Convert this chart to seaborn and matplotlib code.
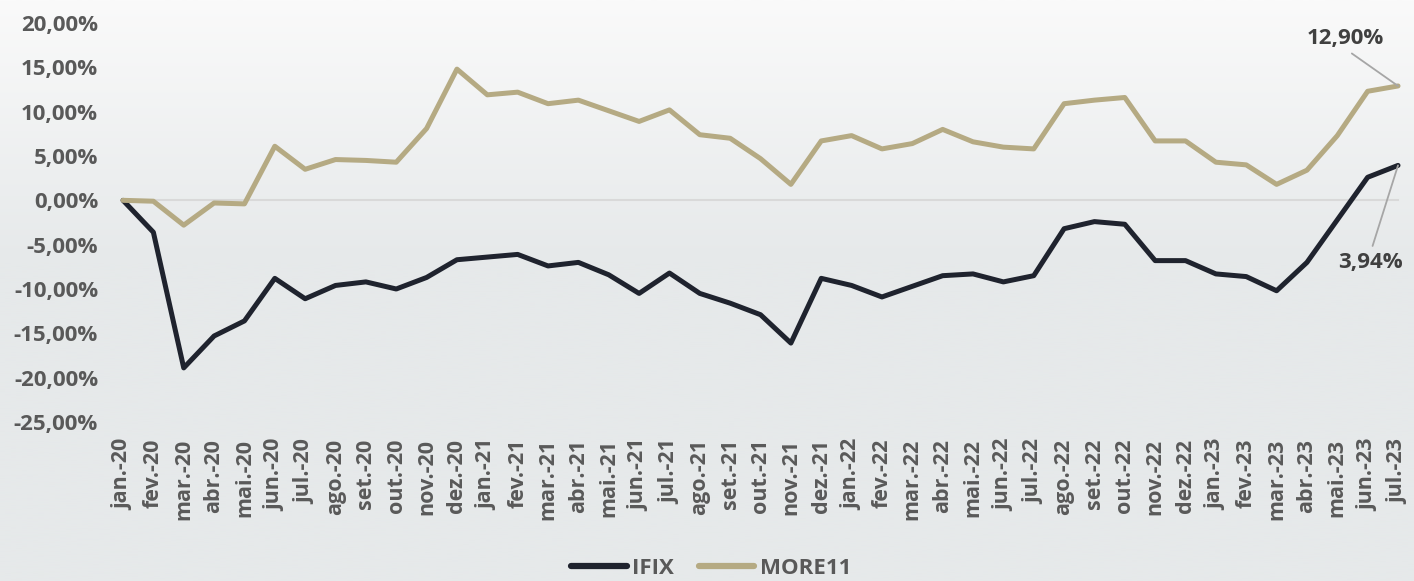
import numpy as np
import pandas as pd
import matplotlib
matplotlib.use("Agg")
import matplotlib.pyplot as plt
import matplotlib.colors as mcolors
import seaborn as sns

# ------------------------------
# Data (accumulated return, %)
# ------------------------------
months = ["jan.-20", "fev.-20", "mar.-20", "abr.-20", "mai.-20", "jun.-20", "jul.-20",
          "ago.-20", "set.-20", "out.-20", "nov.-20", "dez.-20",
          "jan.-21", "fev.-21", "mar.-21", "abr.-21", "mai.-21", "jun.-21", "jul.-21",
          "ago.-21", "set.-21", "out.-21", "nov.-21", "dez.-21",
          "jan.-22", "fev.-22", "mar.-22", "abr.-22", "mai.-22", "jun.-22", "jul.-22",
          "ago.-22", "set.-22", "out.-22", "nov.-22", "dez.-22",
          "jan.-23", "fev.-23", "mar.-23", "abr.-23", "mai.-23", "jun.-23", "jul.-23"]

ifix = [0.0, -3.6, -18.9, -15.3, -13.6, -8.8, -11.1, -9.6, -9.2, -10.0, -8.7, -6.7,
        -6.4, -6.1, -7.4, -7.0, -8.4, -10.5, -8.2, -10.5, -11.6, -12.9, -16.1, -8.8,
        -9.6, -10.9, -9.7, -8.5, -8.3, -9.2, -8.5, -3.2, -2.4, -2.7, -6.8, -6.8,
        -8.3, -8.6, -10.2, -7.0, -2.2, 2.6, 3.94]

more11 = [0.0, -0.1, -2.8, -0.3, -0.4, 6.1, 3.5, 4.6, 4.5, 4.3, 8.1, 14.8,
          11.9, 12.2, 10.9, 11.3, 10.1, 8.9, 10.2, 7.4, 7.0, 4.7, 1.8, 6.7,
          7.3, 5.8, 6.4, 8.0, 6.6, 6.0, 5.8, 10.9, 11.3, 11.6, 6.7, 6.7,
          4.3, 4.0, 1.8, 3.4, 7.3, 12.3, 12.90]

y_ticks = [20, 15, 10, 5, 0, -5, -10, -15, -20, -25]

df = pd.DataFrame({
    "idx": list(range(len(months))) * 2,
    "valor": ifix + more11,
    "serie": ["IFIX"] * len(months) + ["MORE11"] * len(months),
})

TXT = "#595959"
palette = {"IFIX": "#1f232e", "MORE11": "#b5aa83"}

sns.set_style("white")
plt.rcParams["font.family"] = ["Open Sans", "DejaVu Sans"]

fig = plt.figure(figsize=(14.14, 5.81), dpi=100)

# background gradient
bg = fig.add_axes([0, 0, 1, 1], zorder=-10)
grad = np.clip(np.linspace(0, 1, 300) / 0.45, 0, 1)[:, None]
cmap = mcolors.LinearSegmentedColormap.from_list("bg", ["#fafafa", "#e6e9ea"])
bg.imshow(grad, aspect="auto", cmap=cmap, extent=[0, 1, 0, 1], origin="upper")
bg.axis("off")

ax = fig.add_axes([0.087, 0.2737, 0.9017, 0.6867])
ax.set_facecolor("none")

sns.lineplot(data=df, x="idx", y="valor", hue="serie", palette=palette,
             linewidth=3.6, ax=ax, legend=False, clip_on=False)

ax.set_xlim(0, len(months) - 1)
ax.set_ylim(-25, 20)
ax.set_xlabel("")
ax.set_ylabel("")

for s in ["top", "right", "left"]:
    ax.spines[s].set_visible(False)
ax.spines["bottom"].set_position(("data", 0))
ax.spines["bottom"].set_color("#d9d9d9")
ax.spines["bottom"].set_linewidth(1.5)
ax.spines["bottom"].set_zorder(0)

ax.set_xticks(range(len(months)))
ax.tick_params(axis="x", length=8, width=1.5, color="#d9d9d9", labelbottom=False,
               direction="out")

ax.set_yticks(y_ticks)
ax.set_yticklabels([f"{v:.2f}%".replace(".", ",") for v in y_ticks],
                   fontsize=16, fontweight="bold", color=TXT)
ax.tick_params(axis="y", length=0, pad=18)

sec = ax.secondary_xaxis(0)
sec.set_xticks(range(len(months)))
sec.set_xticklabels(months, rotation=90, fontsize=15.5, fontweight="bold", color=TXT)
sec.tick_params(length=0, pad=12)
sec.spines["bottom"].set_visible(False)

# end labels
last = len(months) - 1
ax.annotate("12,90%", xy=(last, more11[-1]), xytext=(40.25, 18.3),
            ha="center", va="center", fontsize=16, fontweight="bold", color="#404040",
            arrowprops=dict(arrowstyle="-", color="#a6a6a6", lw=1.3,
                            relpos=(0.5, 0), shrinkA=2, shrinkB=0))
ax.annotate("3,94%", xy=(last, ifix[-1]), xytext=(41.1, -7.0),
            ha="center", va="center", fontsize=16, fontweight="bold", color="#404040",
            arrowprops=dict(arrowstyle="-", color="#a6a6a6", lw=1.3,
                            relpos=(0.5, 1), shrinkA=2, shrinkB=0))

handles = [plt.Line2D([], [], color=palette[k], lw=4.5, solid_capstyle="round") for k in palette]
fig.legend(handles, list(palette), loc="center", bbox_to_anchor=(0.503, 0.022), ncol=2,
           frameon=False, handlelength=2.5, handletextpad=0.25, columnspacing=1.1,
           prop={"weight": "bold", "size": 16}, labelcolor=TXT)

fig.savefig("out.png", dpi=100)
